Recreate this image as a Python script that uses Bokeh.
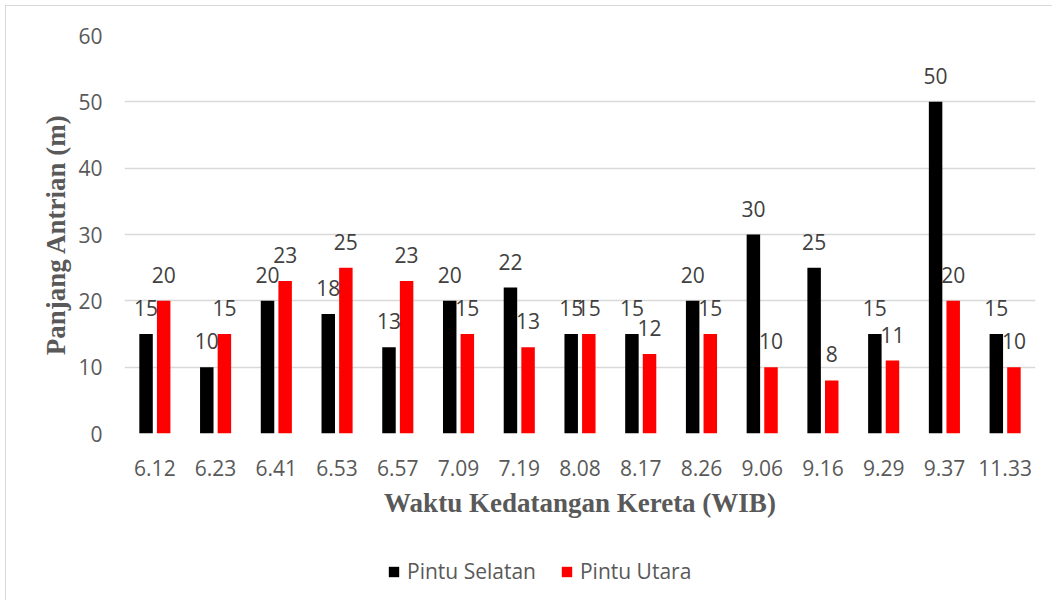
import numpy as np
from bokeh.plotting import figure
from bokeh.layouts import column
from bokeh.models import Range1d, FixedTicker, Legend, LegendItem
from bokeh.core.properties import value
from bokeh.embed import file_html
from bokeh.resources import INLINE

times = ["6.12", "6.23", "6.41", "6.53", "6.57", "7.09", "7.19", "8.08",
         "8.17", "8.26", "9.06", "9.16", "9.29", "9.37", "11.33"]
pintu_selatan = [15, 10, 20, 18, 13, 20, 22, 15, 15, 20, 30, 25, 15, 50, 15]
pintu_utara = [20, 15, 23, 25, 23, 15, 13, 15, 12, 15, 10, 8, 11, 20, 10]
y_ticks = [0, 10, 20, 30, 40, 50, 60]
series_names = ["Pintu Selatan", "Pintu Utara"]
series_colors = ["#000000", "#ff0000"]

W, H1, H2 = 1046, 540, 54
BL, BR = 118, 17
FS = "21px"
p = figure(width=W, height=H1, output_backend="svg", toolbar_location=None,
           x_range=Range1d(0, len(times)), y_range=Range1d(0, 60),
           min_border_left=BL, min_border_right=BR, min_border_top=29,
           min_border_bottom=113)
p.outline_line_color = None
p.background_fill_color = "white"
p.border_fill_color = "white"

centers = np.arange(len(times)) + 0.5
off = 0.145
bw = 0.222
p.vbar(x=centers - off, top=pintu_selatan, width=bw, bottom=0,
       fill_color=series_colors[0], line_color=None)
p.vbar(x=centers + off, top=pintu_utara, width=bw, bottom=0,
       fill_color=series_colors[1], line_color=None)

lab_kw = dict(text_align="center", text_baseline="middle", y_offset=-26,
              text_font=value("Open Sans"), text_font_size=FS,
              text_color="#404040")
p.text(x=centers - off, y=pintu_selatan, text=[str(v) for v in pintu_selatan], **lab_kw)
p.text(x=centers + off, y=pintu_utara, text=[str(v) for v in pintu_utara], **lab_kw)

# axes
p.xaxis.ticker = FixedTicker(ticks=list(centers))
p.xaxis.major_label_overrides = {float(c): t for c, t in zip(centers, times)}
p.yaxis.ticker = FixedTicker(ticks=y_ticks)
for ax in (p.xaxis, p.yaxis):
    ax.axis_line_color = None
    ax.major_tick_line_color = None
    ax.minor_tick_line_color = None
    ax.major_tick_out = 0
    ax.major_tick_in = 0
    ax.major_label_text_font = "Open Sans"
    ax.major_label_text_font_size = FS
    ax.major_label_text_color = "#595959"
    ax.axis_label_text_font = "Liberation Serif"
    ax.axis_label_text_font_style = "bold"
    ax.axis_label_text_font_size = "27px"
    ax.axis_label_text_color = "#595959"
p.yaxis.major_label_standoff = 22
p.xaxis.major_label_standoff = 26
p.xaxis.axis_label = "Waktu Kedatangan Kereta (WIB)"
p.yaxis.axis_label = "Panjang Antrian (m)"
p.xaxis.axis_label_standoff = 9
p.yaxis.axis_label_standoff = 4

p.xgrid.grid_line_color = None
p.ygrid.ticker = FixedTicker(ticks=y_ticks)
p.ygrid.grid_line_color = "#d9d9d9"
p.ygrid.grid_line_width = 1.5

# legend strip below the chart (frame aligned with the main chart)
p2 = figure(width=W, height=H2, output_backend="svg", toolbar_location=None,
            x_range=Range1d(0, 1), y_range=Range1d(0, 1),
            min_border_left=BL, min_border_right=BR, min_border_top=0,
            min_border_bottom=0)
p2.axis.visible = False
p2.grid.visible = False
p2.outline_line_color = None
p2.background_fill_color = "white"
p2.border_fill_color = "white"
items = []
for name, col in zip(series_names, series_colors):
    # hidden placeholder renderer, only used for the legend swatch
    r = p2.vbar(x=[0.5], top=[1], width=0.1, fill_color=col, line_color=None)
    r.visible = False
    items.append(LegendItem(label=name, renderers=[r]))
legend = Legend(items=items, orientation="horizontal", location=(263, 15),
                glyph_width=13, glyph_height=13, label_standoff=7, spacing=24,
                padding=0, margin=0, border_line_alpha=0,
                background_fill_alpha=0, inactive_fill_alpha=0,
                label_text_font="Open Sans",
                label_text_font_size=FS, label_text_color="#595959")
p2.add_layout(legend)

layout = column(p, p2, spacing=0,
                styles={"margin-left": "5px", "margin-top": "5px",
                        "border-left": "1px solid #d9d9d9",
                        "border-top": "1px solid #d9d9d9"})
open("out.html", "w").write(file_html(layout, INLINE))
